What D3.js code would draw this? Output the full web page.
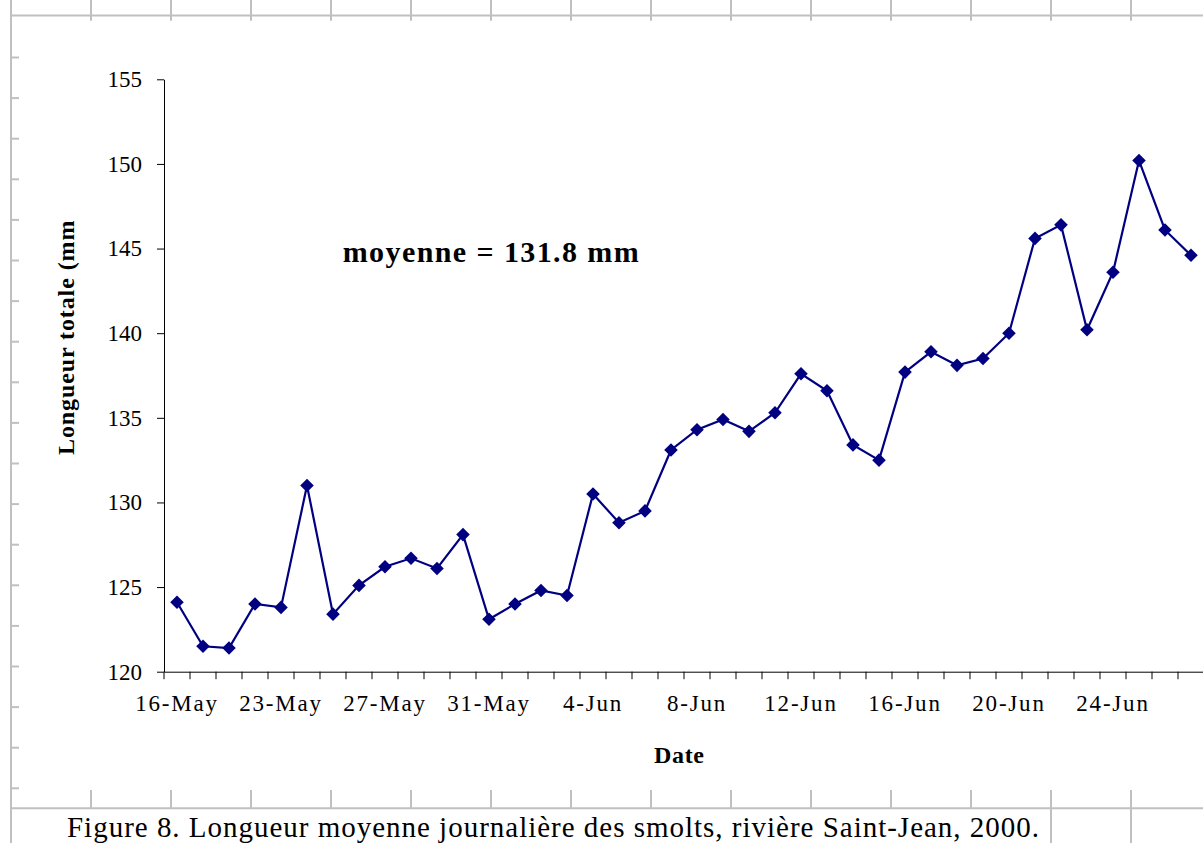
<!DOCTYPE html>
<html>
<head>
<meta charset="utf-8">
<script src="https://cdn.jsdelivr.net/npm/d3@7"></script>
<style>
  html, body { margin: 0; padding: 0; background: #ffffff; }
  svg { display: block; }
  text { font-family: "Liberation Serif", "Times New Roman", serif; fill: #000; }
</style>
</head>
<body>
<svg id="chart" width="1203" height="843"></svg>
<script>
// ---- data ----
const dates = ["16-May","20-May","21-May","22-May","23-May","24-May","25-May","26-May","27-May","28-May",
  "29-May","30-May","31-May","1-Jun","2-Jun","3-Jun","4-Jun","5-Jun","6-Jun","7-Jun",
  "8-Jun","9-Jun","10-Jun","11-Jun","12-Jun","13-Jun","14-Jun","15-Jun","16-Jun","17-Jun",
  "18-Jun","19-Jun","20-Jun","21-Jun","22-Jun","23-Jun","24-Jun","25-Jun","26-Jun","27-Jun"];
const lengths = [124.1,121.5,121.4,124.0,123.8,131.0,123.4,125.1,126.2,126.7,
  126.1,128.1,123.1,124.0,124.8,124.5,130.5,128.8,129.5,133.1,
  134.3,134.9,134.2,135.3,137.6,136.6,133.4,132.5,137.7,138.9,
  138.1,138.5,140.0,145.6,146.4,140.2,143.6,150.2,146.1,144.6];
const xTickLabels = ["16-May","23-May","27-May","31-May","4-Jun","8-Jun","12-Jun","16-Jun","20-Jun","24-Jun"];
const yTicks = [120,125,130,135,140,145,150,155];
const yDomain = [120,155];
const yTitle = "Longueur totale (mm)";
const xTitle = "Date";
const note = "moyenne = 131.8 mm";
const caption = "Figure 8. Longueur moyenne journalière des smolts, rivière Saint-Jean, 2000.";

// ---- layout ----
const svg = d3.select("#chart");
const W = 1203, H = 843;
const plot = { left: 164, right: 1204, top: 79.3, bottom: 671.7 };
const gridColor = "#c0c0c0";
const navy = "#000080";

// ---- spreadsheet grid background ----
const grid = svg.append("g").attr("stroke", gridColor).attr("stroke-width", 2);
grid.append("line").attr("x1", 11).attr("x2", W).attr("y1", 15.5).attr("y2", 15.5);
grid.append("line").attr("x1", 11).attr("x2", W).attr("y1", 808.3).attr("y2", 808.3);
grid.append("line").attr("x1", 11).attr("x2", 11).attr("y1", 0).attr("y2", H);
const colXs = d3.range(11, 1140, 80);
colXs.forEach(x => {
  grid.append("line").attr("x1", x).attr("x2", x).attr("y1", 0).attr("y2", 20.7);
  if (x > 11) {
    const y2 = x >= 1051 ? H : 808.3;
    grid.append("line").attr("x1", x).attr("x2", x).attr("y1", 790).attr("y2", y2);
  }
});
const rowYs = d3.range(0, 19).map(k => 57.5 + 40.6 * k);
rowYs.forEach(y => {
  grid.append("line").attr("x1", 11).attr("x2", 19).attr("y1", y).attr("y2", y);
});

// ---- scales ----
const x = d3.scaleBand().domain(dates).range([plot.left, plot.right]).padding(0);
const y = d3.scaleLinear().domain(yDomain).range([plot.bottom, plot.top]);
const cx = d => x(d) + x.bandwidth() / 2;

// ---- y axis ----
const yAxis = svg.append("g")
  .attr("transform", `translate(${plot.left},0)`)
  .call(d3.axisLeft(y).tickValues(yTicks).tickFormat(d3.format("d")).tickSize(7).tickSizeOuter(0).tickPadding(15));
yAxis.select(".domain").attr("stroke", "#000").attr("stroke-width", 1);
yAxis.selectAll(".tick line").attr("stroke", "#000");
yAxis.selectAll(".tick text").style("font-family", "'Liberation Serif', serif").style("font-size", "23px").attr("fill", "#000");

// ---- x axis ----
const xAxis = svg.append("g")
  .attr("transform", `translate(0,${plot.bottom})`)
  .call(d3.axisBottom(x).tickValues(xTickLabels).tickSize(0).tickSizeOuter(0).tickPadding(23));
xAxis.select(".domain").attr("stroke", "#000").attr("stroke-width", 1);
xAxis.selectAll(".tick text")
  .style("font-family", "'Liberation Serif', serif").style("font-size", "23px")
  .style("letter-spacing", "1.8px").attr("fill", "#000");
// category boundary tick marks
const bounds = dates.map(d => x(d)).concat([plot.right]);
xAxis.selectAll("line.cat").data(bounds).enter().append("line")
  .attr("class", "cat")
  .attr("x1", d => d).attr("x2", d => d)
  .attr("y1", 0).attr("y2", 7.5)
  .attr("stroke", "#000").attr("stroke-width", 1);

// ---- line + markers ----
const pts = dates.map((d, i) => ({ d, v: lengths[i] }));
svg.append("path")
  .datum(pts)
  .attr("fill", "none")
  .attr("stroke", navy)
  .attr("stroke-width", 2.2)
  .attr("d", d3.line().x(p => cx(p.d)).y(p => y(p.v)));
svg.append("g").selectAll("path").data(pts).enter().append("path")
  .attr("d", d3.symbol(d3.symbolSquare, 92)())
  .attr("transform", p => `translate(${cx(p.d)},${y(p.v)}) rotate(45)`)
  .attr("fill", navy);

// ---- titles ----
svg.append("defs").append("clipPath").attr("id", "ytclip")
  .append("rect").attr("x", 0).attr("y", 220).attr("width", 150).attr("height", 600);
svg.append("g").attr("clip-path", "url(#ytclip)")
  .append("text")
  .attr("transform", "translate(74,455) rotate(-90)")
  .attr("text-anchor", "start")
  .style("font-size", "24px").style("font-weight", "bold").style("letter-spacing", "0.9px")
  .text(yTitle);

svg.append("text")
  .attr("x", 679).attr("y", 763)
  .attr("text-anchor", "middle")
  .attr("textLength", 50).attr("lengthAdjust", "spacing")
  .style("font-size", "24px").style("font-weight", "bold")
  .text(xTitle);

svg.append("text")
  .attr("x", 342.7).attr("y", 262)
  .attr("textLength", 296).attr("lengthAdjust", "spacing")
  .style("font-size", "30px").style("font-weight", "bold")
  .text(note);

svg.append("text")
  .attr("x", 67).attr("y", 837)
  .attr("textLength", 972).attr("lengthAdjust", "spacing")
  .style("font-size", "29px")
  .text(caption);
</script>
</body>
</html>
